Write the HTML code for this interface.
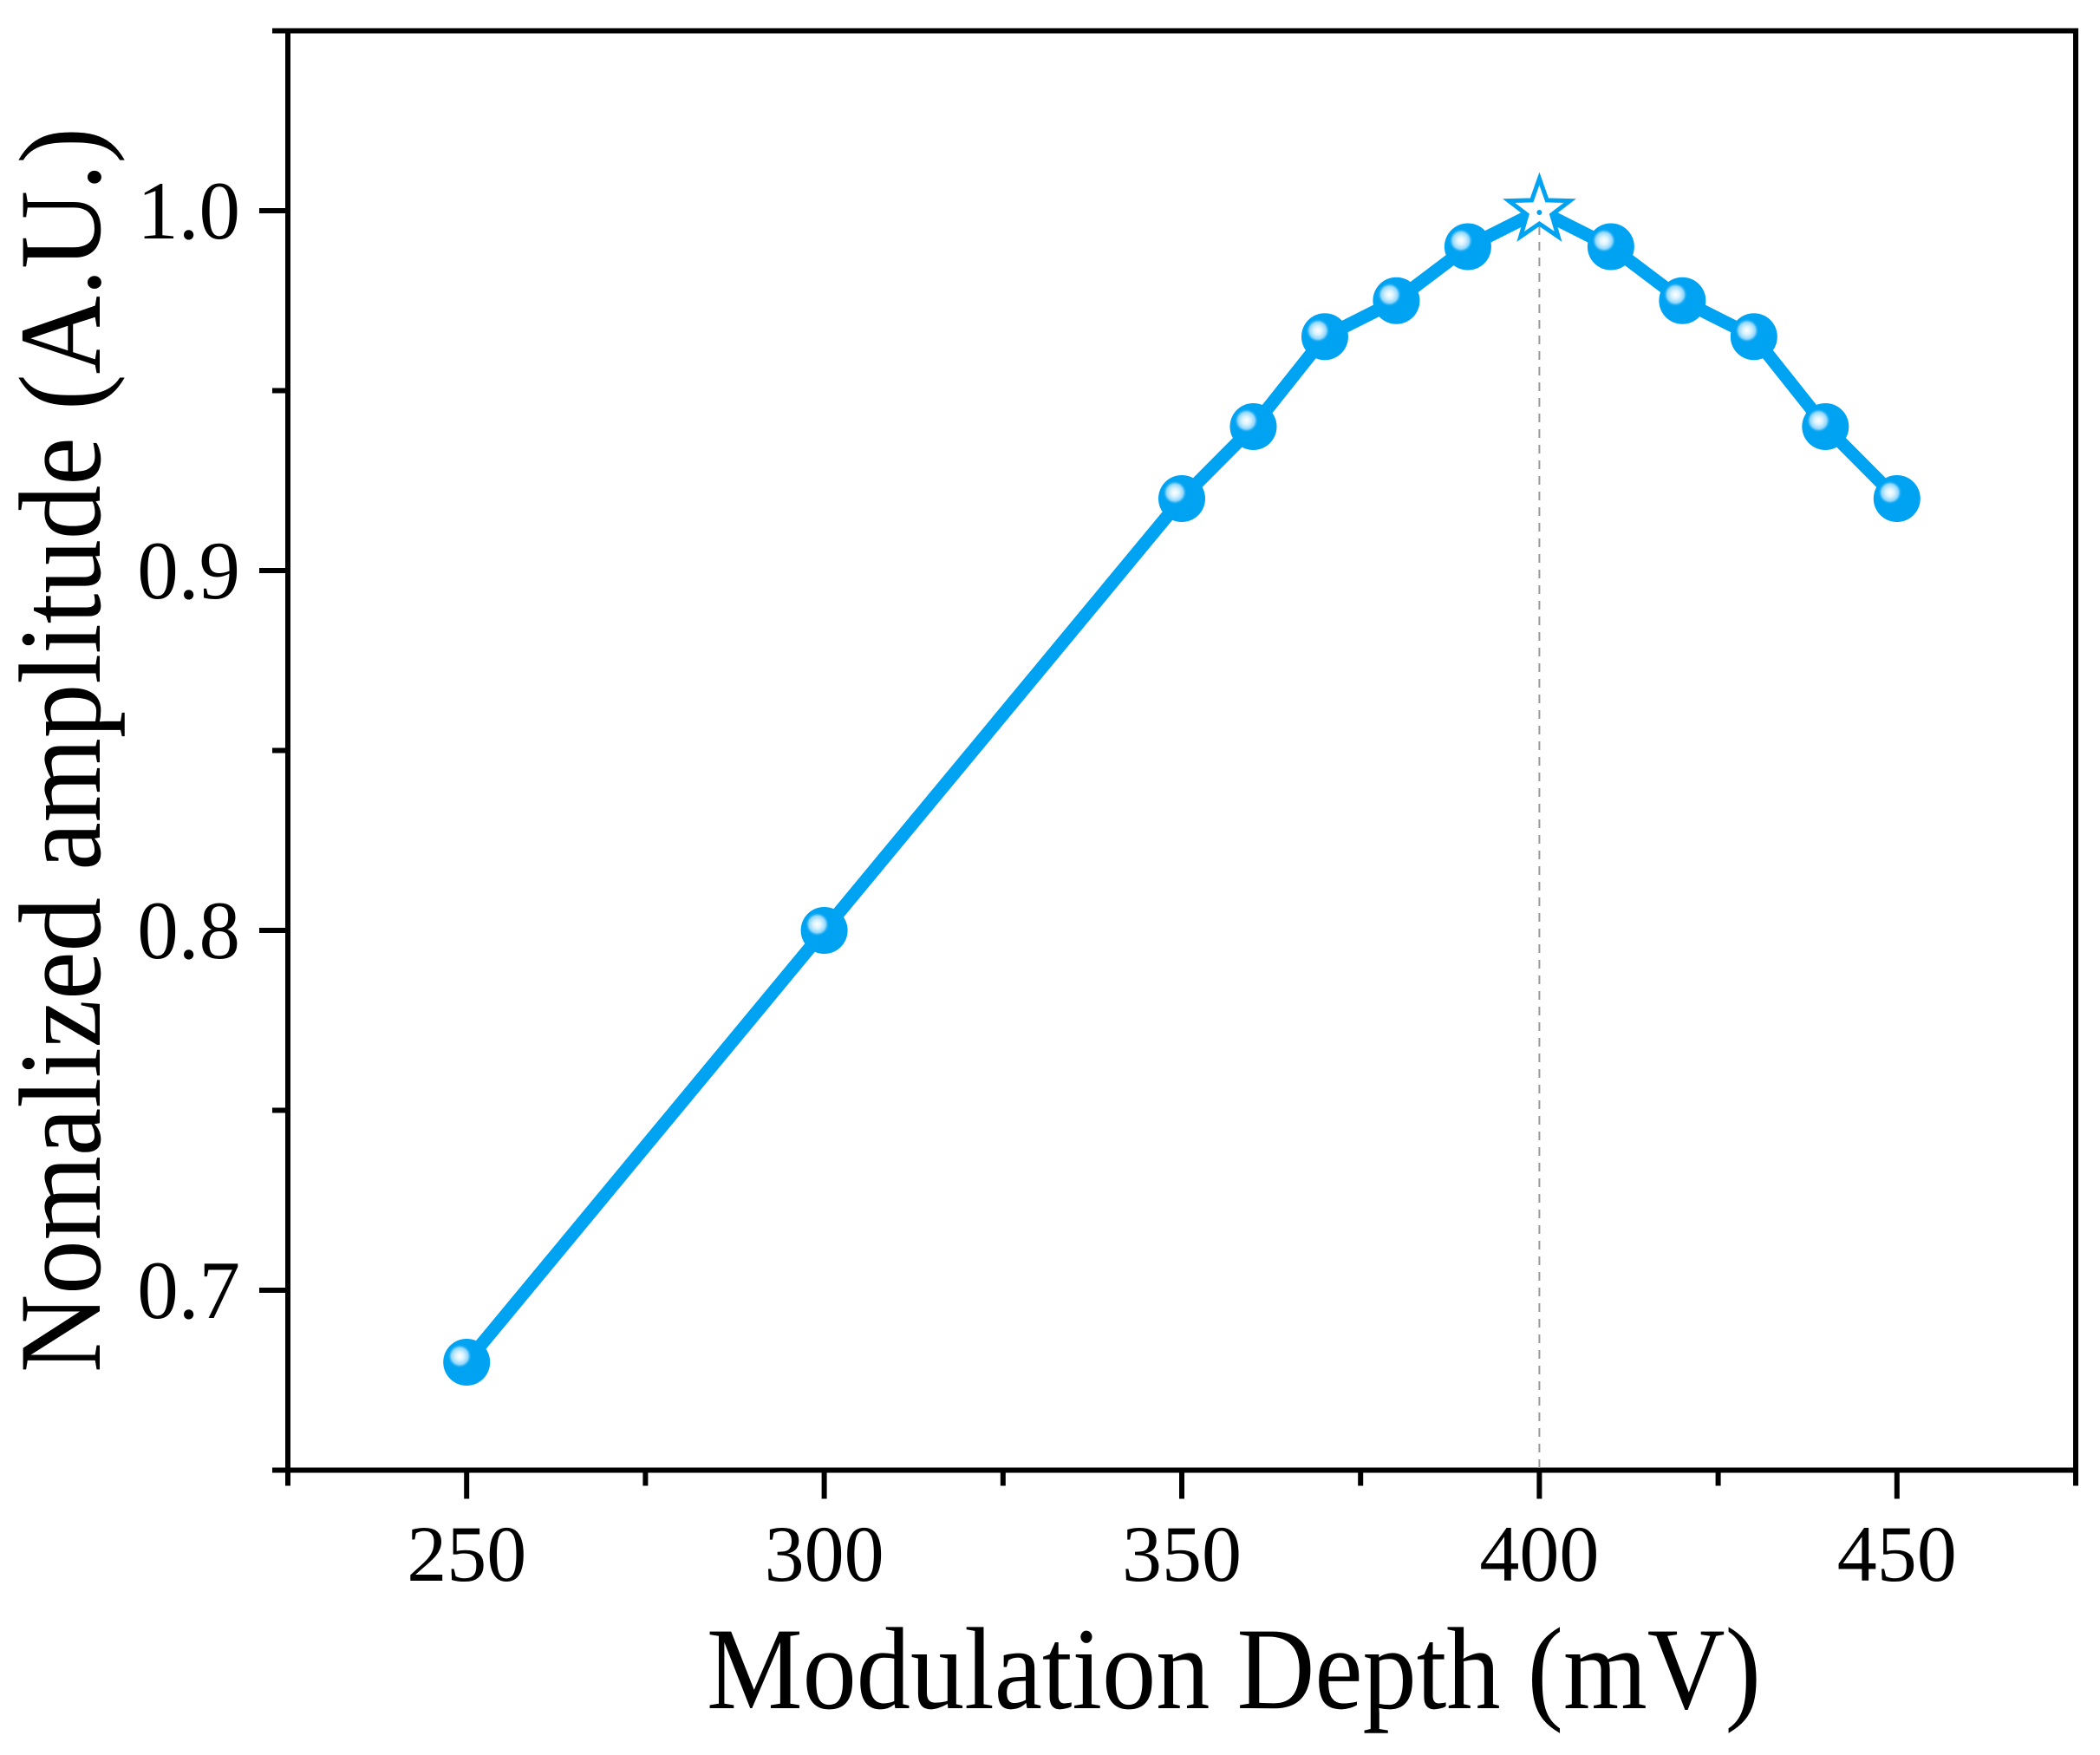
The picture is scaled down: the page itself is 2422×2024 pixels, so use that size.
<!DOCTYPE html>
<html><head><meta charset="utf-8"><style>
html,body{margin:0;padding:0;background:#fff;}
svg{display:block;}
text{font-family:"Liberation Serif",serif;fill:#000;}
</style></head><body>
<svg id="chart" width="2422" height="2024" viewBox="0 0 2422 2024">
<defs>
<radialGradient id="hl" cx="0.5" cy="0.5" r="0.5">
<stop offset="0" stop-color="#ffffff"/><stop offset="0.35" stop-color="#d8f2ff"/><stop offset="0.7" stop-color="#8fd6fb"/><stop offset="1" stop-color="#00a2f2" stop-opacity="0"/>
</radialGradient>
</defs>
<g id="axes"></g>
<g id="marks"></g>
<text x="1423" y="1970" font-size="135" text-anchor="middle" textLength="1216" lengthAdjust="spacingAndGlyphs">Modulation Depth (mV)</text>
<text transform="translate(115,865) rotate(-90)" font-size="135" text-anchor="middle" textLength="1436" lengthAdjust="spacingAndGlyphs">Nomalized amplitude (A.U.)</text>
</svg>
<script>
const xValues = [250, 300, 350, 360, 370, 380, 390, 400, 410, 420, 430, 440, 450];
const yValues = [0.68, 0.80, 0.92, 0.94, 0.965, 0.975, 0.99, 1.0, 0.99, 0.975, 0.965, 0.94, 0.92];
const peakX = 400;
const peakY = 1.0;
const xTickLabels = ["250", "300", "350", "400", "450"];
const yTickLabels = ["0.7", "0.8", "0.9", "1.0"];

const NS = "http://www.w3.org/2000/svg";
const L = 332, R = 2394, T = 35.5, B = 1695.5;
const xMin = 225, xMax = 475, yMin = 0.65, yMax = 1.05;
function sx(v){ return L + (v - xMin) / (xMax - xMin) * (R - L); }
function sy(v){ return B - (v - yMin) / (yMax - yMin) * (B - T); }
function mk(tag, attrs, parent){ const e = document.createElementNS(NS, tag); for (const k in attrs) e.setAttribute(k, attrs[k]); parent.appendChild(e); return e; }
const axes = document.getElementById("axes");
const marks = document.getElementById("marks");
const COL = "#00a2f2";

const frame = mk("rect", {x:L, y:T, width:R-L, height:B-T, fill:"none", stroke:"#000", "stroke-width":6}, axes);



for (let v = 225; v <= 475; v += 25) {
  const major = (v % 50 === 0);
  const t = mk("line", {x1:sx(v), x2:sx(v), y1:B, y2:B + (major ? 33 : 18), stroke:"#000", "stroke-width":6}, axes);
  
  
}
xTickLabels.forEach(s => {
  const t = mk("text", {x:sx(+s), y:1823, "font-size":92, "text-anchor":"middle"}, axes);
  t.textContent = s;
  
  
});
for (let i = 0; i <= 8; i++) {
  const v = 0.65 + i * 0.05;
  const major = (i % 2 === 1);
  const t = mk("line", {x1:L, x2:L - (major ? 33 : 18), y1:sy(v), y2:sy(v), stroke:"#000", "stroke-width":6}, axes);
  
  
}
yTickLabels.forEach(s => {
  const t = mk("text", {x:277, y:sy(+s) + 32, "font-size":95, "text-anchor":"end"}, axes);
  t.textContent = s;
  
  
});

const dl = mk("line", {x1:sx(peakX), x2:sx(peakX), y1:sy(peakY), y2:B, stroke:"#999", "stroke-width":2, "stroke-dasharray":"10,8"}, marks);



const pts = xValues.map((x,i) => sx(x) + "," + sy(yValues[i])).join(" ");
const pl = mk("polyline", {points:pts, fill:"none", stroke:COL, "stroke-width":15, "stroke-linejoin":"round"}, marks);



xValues.forEach((x,i) => {
  if (x === peakX) return;
  const cx = sx(x), cy = sy(yValues[i]);
  const g = mk("g", {}, marks);
  
  
  mk("circle", {cx:cx, cy:cy, r:27, fill:COL}, g);
  mk("circle", {cx:cx-8, cy:cy-7, r:14, fill:"url(#hl)"}, g);
});
(function(){
  const cx = sx(peakX), cy = sy(peakY), Ro = 37, Ri = 15;
  let p = [];
  for (let k = 0; k < 10; k++) {
    const a = -Math.PI/2 + k * Math.PI/5, r = k % 2 ? Ri : Ro;
    p.push((cx + r*Math.cos(a)).toFixed(1) + "," + (cy + r*Math.sin(a)).toFixed(1));
  }
  const s = mk("polygon", {points:p.join(" "), fill:"#fff", stroke:COL, "stroke-width":5, "stroke-linejoin":"miter"}, marks);
  
  
  mk("circle", {cx:cx, cy:cy+2, r:3, fill:COL}, marks);
})();
</script>
</body></html>
